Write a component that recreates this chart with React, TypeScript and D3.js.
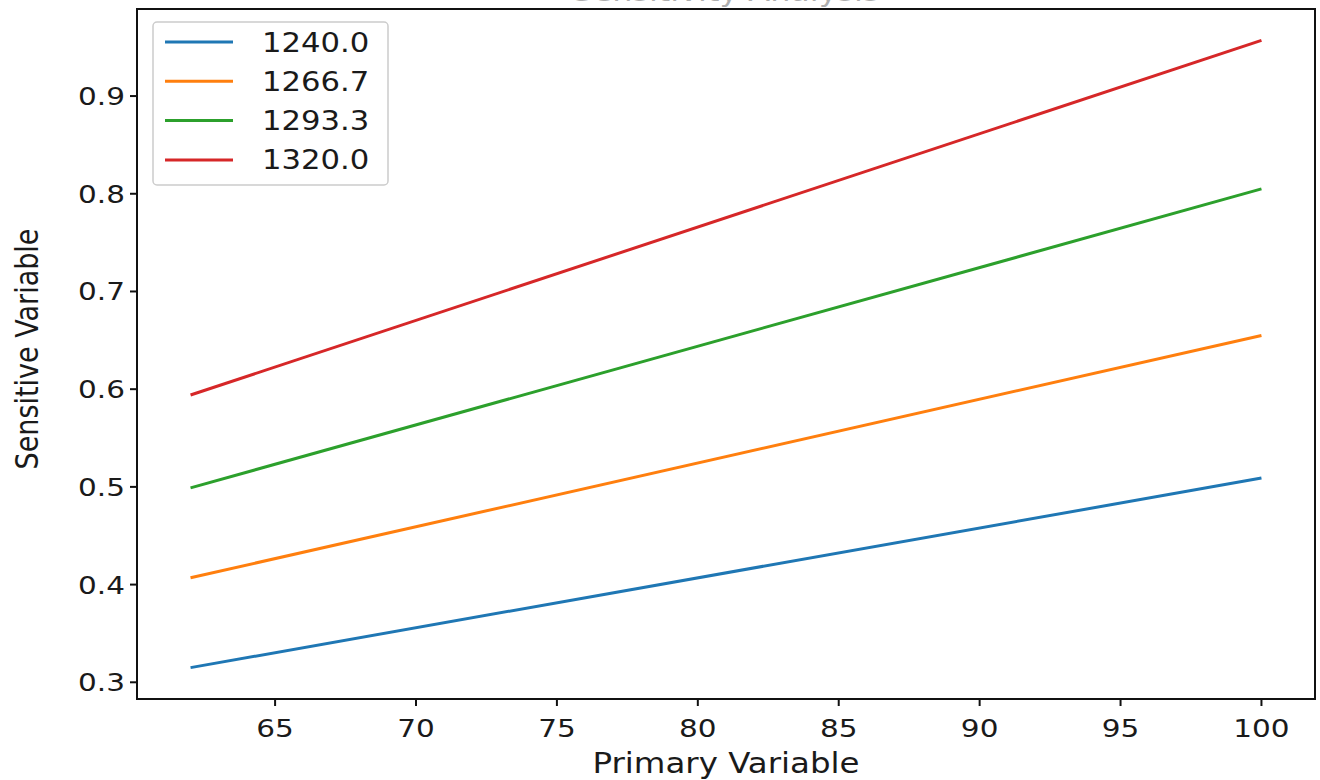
import React from "react";
import * as d3 from "d3";

const seriesNames = ["1240.0", "1266.7", "1293.3", "1320.0"];
const colors = ["#1f77b4", "#ff7f0e", "#2ca02c", "#d62728"];
const xValues = [62, 100];
const blueValues = [0.315, 0.509];
const orangeValues = [0.407, 0.655];
const greenValues = [0.499, 0.805];
const redValues = [0.594, 0.957];
const allSeries = [blueValues, orangeValues, greenValues, redValues];
const xTicks = [65, 70, 75, 80, 85, 90, 95, 100];
const yTicks = [0.3, 0.4, 0.5, 0.6, 0.7, 0.8, 0.9];
const title = "Sensitivity Analysis";
const xLabel = "Primary Variable";
const yLabel = "Sensitive Variable";

const W = 1320;
const H = 780;
const L = 137, R = 1315, T = 9, B = 699;
const FS = 25;
const SX = 1.18;
const FONT = "DejaVu Sans, sans-serif";

export default function App() {
  const allY = allSeries.flat();
  const yMin = d3.min(allY)!, yMax = d3.max(allY)!;
  const yPad = (yMax - yMin) * 0.05;
  const xMin = d3.min(xValues)!, xMax = d3.max(xValues)!;
  const xPad = (xMax - xMin) * 0.05;
  const x = d3.scaleLinear().domain([xMin - xPad, xMax + xPad]).range([L, R]);
  const y = d3.scaleLinear().domain([yMin - yPad, yMax + yPad]).range([B, T]);
  const line = d3.line<number>().x((_, i) => x(xValues[i])).y((d) => y(d));

  const hText = (tx: number, ty: number, s: string, anchor: string, fs: number = FS, key?: any) => (
    <text key={key} transform={`translate(${tx},${ty}) scale(${SX},1)`} textAnchor={anchor} fontSize={fs} fontFamily={FONT} fill="#1a1a1a">{s}</text>
  );

  return (
    <svg width={W} height={H} style={{ position: "absolute", left: 0, top: 0, background: "#fff" }}>
      <rect x={0} y={0} width={W} height={H} fill="#fff" />
      <g opacity={0.35}>{hText((L + R) / 2, 1, title, "middle", 27)}</g>
      {allSeries.map((s, i) => (
        <path key={i} d={line(s)!} fill="none" stroke={colors[i]} strokeWidth={3} />
      ))}
      <rect x={L} y={T} width={R - L} height={B - T} fill="none" stroke="#111" strokeWidth={2} />
      {xTicks.map((t) => (
        <g key={"x" + t}>
          <line x1={x(t)} x2={x(t)} y1={B} y2={B + 7} stroke="#111" strokeWidth={2} />
          {hText(x(t), 737, String(t), "middle")}
        </g>
      ))}
      {yTicks.map((t) => (
        <g key={"y" + t}>
          <line x1={L - 7} x2={L} y1={y(t)} y2={y(t)} stroke="#111" strokeWidth={2} />
          {hText(L - 12, y(t) + 9, t.toFixed(1), "end")}
        </g>
      ))}
      {hText((L + R) / 2, 773, xLabel, "middle", 27.5)}
      <text transform={`translate(38,${(T + B) / 2 - 5}) scale(${SX},1) rotate(-90)`} textAnchor="middle" fontSize={27} fontFamily={FONT} fill="#1a1a1a">{yLabel}</text>
      <rect x={153} y={22} width={235} height={163} rx={4} fill="#fff" fillOpacity={0.8} stroke="#ccc" strokeWidth={1.5} />
      {seriesNames.map((n, i) => (
        <g key={n}>
          <line x1={165} x2={233} y1={42 + i * 39.3} y2={42 + i * 39.3} stroke={colors[i]} strokeWidth={3} />
          {hText(262, 42 + i * 39.3 + 9.5, n, "start", 26)}
        </g>
      ))}
    </svg>
  );
}
